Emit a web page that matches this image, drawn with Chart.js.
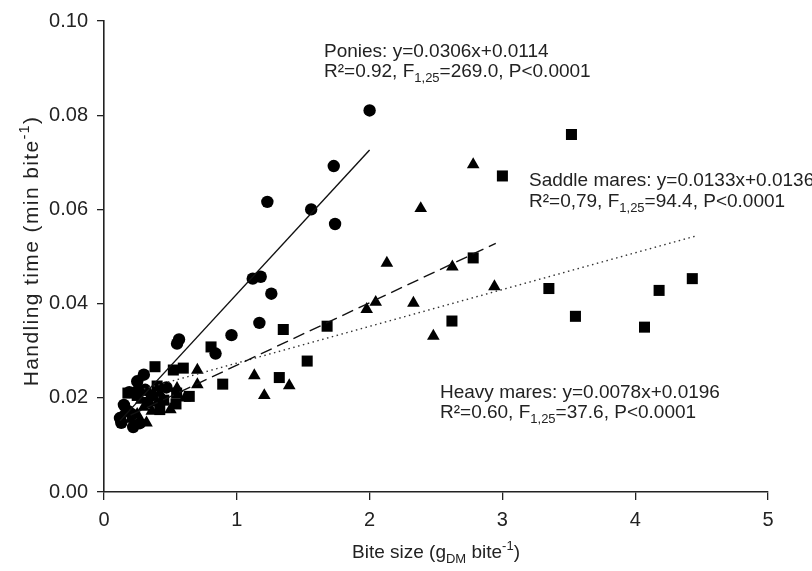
<!DOCTYPE html>
<html>
<head>
<meta charset="utf-8">
<script src="https://cdn.jsdelivr.net/npm/chart.js@4.4.0/dist/chart.umd.min.js"></script>
<style>
  body { margin: 0; background: #fff; }
  #wrap { width: 812px; height: 571px; }
</style>
</head>
<body>
<div id="wrap"><canvas id="bite_chart" width="812" height="571"></canvas></div>
<script>
// ponies (circles)
let pony_x = [0.12, 0.13, 0.18, 0.22, 0.15, 0.19, 0.25, 0.31, 0.25, 0.30, 0.36, 0.47, 0.55, 0.565, 0.84, 0.96, 1.12, 1.18, 1.26, 1.17, 1.23, 1.56, 1.73, 1.74, 2.00, 0.21, 0.27]
let pony_y = [0.0157, 0.0147, 0.0172, 0.0138, 0.0185, 0.0212, 0.0214, 0.0217, 0.0235, 0.0249, 0.0205, 0.0222, 0.0315, 0.0324, 0.0294, 0.0333, 0.0453, 0.0457, 0.0421, 0.0359, 0.0616, 0.0600, 0.0692, 0.0569, 0.0810, 0.0165, 0.0146]

// saddle mares (triangles)
let saddle_x = [2.78, 2.385, 2.13, 2.046, 1.978, 2.33, 2.623, 2.94, 2.48, 1.132, 1.395, 1.207, 0.703, 0.703, 0.61, 0.25, 0.32, 0.36, 0.40, 0.45, 0.30, 0.50, 0.20, 0.28, 0.42, 0.55, 0.15]
let saddle_y = [0.0695, 0.0602, 0.0486, 0.0403, 0.0388, 0.0401, 0.0478, 0.0436, 0.0331, 0.0247, 0.0226, 0.0205, 0.0259, 0.0228, 0.0200, 0.0165, 0.0147, 0.0172, 0.0190, 0.0195, 0.0180, 0.0175, 0.0155, 0.0195, 0.0210, 0.0220, 0.0170]

// heavy mares (squares)
let heavy_x = [3.52, 3.00, 2.78, 3.35, 3.55, 4.07, 4.18, 4.43, 2.62, 1.68, 1.35, 1.53, 1.32, 0.894, 0.806, 0.384, 0.522, 0.597, 0.542, 0.642, 0.547, 0.25, 0.33, 0.42, 0.18, 0.40, 0.45]
let heavy_y = [0.0759, 0.0671, 0.0497, 0.0432, 0.0373, 0.0350, 0.0428, 0.0453, 0.0363, 0.0352, 0.0345, 0.0278, 0.0243, 0.0229, 0.0308, 0.0266, 0.0259, 0.0263, 0.0187, 0.0203, 0.0210, 0.0205, 0.0190, 0.0175, 0.0210, 0.0225, 0.0195]

// fitted lines, end points
let pony_fit_x = [0.12, 2.00]
let pony_fit_y = [0.0151, 0.0726]
let saddle_fit_x = [0.20, 2.95]
let saddle_fit_y = [0.0163, 0.0528]
let heavy_fit_x = [0.30, 4.45]
let heavy_fit_y = [0.0219, 0.0543]

let x_ticks = [0, 1, 2, 3, 4, 5]
let y_ticks = [0.00, 0.02, 0.04, 0.06, 0.08, 0.10]

let pts = (xs, ys) => xs.map((x, i) => ({x: x, y: ys[i]}))

let FONT = "'Liberation Sans', Arial, sans-serif"
let FS = 19

// text with sub / superscripts
let rich_text = {
    id: 'rich_text',
    afterDraw(chart, args, opts) {
        let ctx = chart.ctx
        ctx.save()
        ctx.fillStyle = '#222'
        ctx.textBaseline = 'alphabetic'
        opts.items.forEach(item => {
            ctx.save()
            ctx.translate(item.x, item.y)
            if (item.rot) ctx.rotate(item.rot)
            ctx.letterSpacing = item.spacing || '0px'
            let fs = item.size || FS
            let size = p => (typeof p === 'string') ? fs : Math.round(fs * 0.68)
            let total = 0
            item.parts.forEach(p => {
                ctx.font = size(p) + 'px ' + FONT
                total += ctx.measureText(typeof p === 'string' ? p : p[0]).width
            })
            let cx = item.center ? -total / 2 : 0
            item.parts.forEach(p => {
                let t = typeof p === 'string' ? p : p[0]
                let dy = typeof p === 'string' ? 0 : (p[1] == 'sub' ? fs * 0.27 : -fs * 0.42)
                ctx.font = size(p) + 'px ' + FONT
                ctx.fillText(t, cx, dy)
                cx += ctx.measureText(t).width
            })
            ctx.restore()
        })
        ctx.restore()
    }
}

let ctx = document.querySelector('#bite_chart').getContext('2d')

let bite_chart = new Chart(ctx, {
    type: 'scatter',
    data: {
        datasets: [{
            label: 'Ponies fit',
            type: 'line',
            data: pts(pony_fit_x, pony_fit_y),
            borderColor: '#111',
            borderWidth: 1.4,
            pointRadius: 0
        }, {
            label: 'Saddle mares fit',
            type: 'line',
            data: pts(saddle_fit_x, saddle_fit_y),
            borderColor: '#111',
            borderWidth: 1.4,
            borderDash: [12, 6],
            pointRadius: 0
        }, {
            label: 'Heavy mares fit',
            type: 'line',
            data: pts(heavy_fit_x, heavy_fit_y),
            borderColor: '#333',
            borderWidth: 1.4,
            borderDash: [1.5, 3.5],
            pointRadius: 0
        }, {
            label: 'Ponies',
            data: pts(pony_x, pony_y),
            pointStyle: 'circle',
            pointRadius: 6.2,
            backgroundColor: '#000',
            borderWidth: 0
        }, {
            label: 'Saddle mares',
            data: pts(saddle_x, saddle_y),
            pointStyle: 'triangle',
            pointRadius: 7.3,
            backgroundColor: '#000',
            borderWidth: 0
        }, {
            label: 'Heavy mares',
            data: pts(heavy_x, heavy_y),
            pointStyle: 'rect',
            pointRadius: 7.8,
            backgroundColor: '#000',
            borderWidth: 0
        }]
    },
    options: {
        responsive: false,
        animation: false,
        layout: { padding: { top: 15, right: 44, left: 0, bottom: 0 } },
        plugins: {
            legend: { display: false },
            tooltip: { enabled: false },
            rich_text: {
                items: [
                    { x: 324, y: 57, parts: ['Ponies: y=0.0306x+0.0114'] },
                    { x: 324, y: 77, parts: ['R²=0.92, F', ['1,25', 'sub'], '=269.0, P<0.0001'] },
                    { x: 529, y: 186, parts: ['Saddle mares: y=0.0133x+0.0136'] },
                    { x: 529, y: 207, parts: ['R²=0,79, F', ['1,25', 'sub'], '=94.4, P<0.0001'] },
                    { x: 440, y: 398, parts: ['Heavy mares: y=0.0078x+0.0196'] },
                    { x: 440, y: 418, parts: ['R²=0.60, F', ['1,25', 'sub'], '=37.6, P<0.0001'] },
                    { x: 436, y: 558, center: true, parts: ['Bite size (g', ['DM', 'sub'], ' bite', ['-1', 'sup'], ')'] },
                    { x: 38, y: 251, center: true, rot: -Math.PI / 2, size: 21, spacing: '1.4px', parts: ['Handling time (min bite', ['-1', 'sup'], ')'] }
                ]
            }
        },
        scales: {
            x: {
                type: 'linear',
                min: 0,
                max: 5,
                afterBuildTicks: s => { s.ticks = x_ticks.map(v => ({value: v})) },
                afterFit: s => { s.height = 79 },
                ticks: {
                    color: '#222',
                    font: { family: FONT, size: 20 },
                    padding: 8,
                    maxRotation: 0,
                    callback: v => String(v)
                },
                grid: { drawOnChartArea: false, drawTicks: true, tickLength: 8, color: '#222', lineWidth: 1.3 },
                border: { display: true, color: '#222', width: 1.6 }
            },
            y: {
                type: 'linear',
                min: 0,
                max: 0.1,
                afterBuildTicks: s => { s.ticks = y_ticks.map(v => ({value: v})) },
                afterFit: s => { s.width = 104 },
                ticks: {
                    color: '#222',
                    font: { family: FONT, size: 20 },
                    padding: 9,
                    callback: v => v.toFixed(2)
                },
                grid: { drawOnChartArea: false, drawTicks: true, tickLength: 7, color: '#222', lineWidth: 1.3 },
                border: { display: true, color: '#222', width: 1.6 }
            }
        }
    },
    plugins: [rich_text]
})
</script>
</body>
</html>
